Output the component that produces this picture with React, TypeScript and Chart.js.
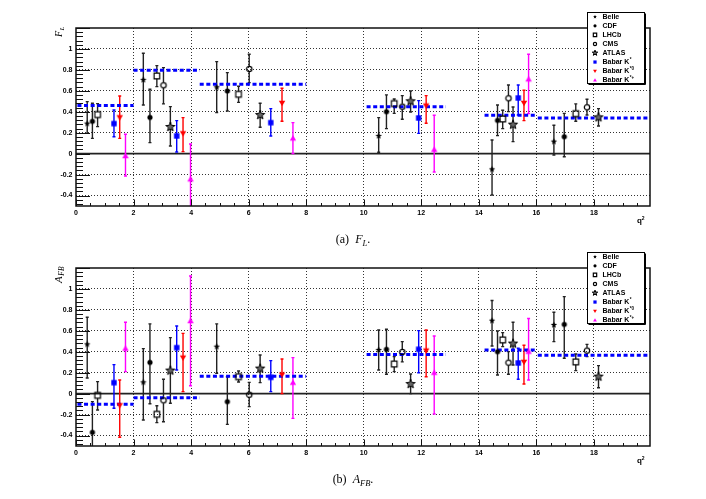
import React, { useEffect, useRef } from 'react';
import { Chart, registerables } from 'chart.js';

Chart.register(...registerables);

// ---------------- axis / tick data ----------------
const xTickValues = [0, 2, 4, 6, 8, 10, 12, 14, 16, 18];
const xTickLabels = ['0', '2', '4', '6', '8', '10', '12', '14', '16', '18'];
const yTickValues = [-0.4, -0.2, 0, 0.2, 0.4, 0.6, 0.8, 1];
const yTickLabels = ['-0.4', '-0.2', '0', '0.2', '0.4', '0.6', '0.8', '1'];
const xMin = 0;
const xMax = 19.95;
const yMin = -0.5;
const yMax = 1.2;

// ---------------- Standard Model bins (dashed blue) ----------------
const smBinLow = [0.05, 2, 4.3, 10.1, 14.2, 16.05];
const smBinHigh = [2, 4.3, 8, 12.86, 16, 19.95];
const smFL = [0.459, 0.796, 0.662, 0.449, 0.366, 0.341];
const smAFB = [-0.102, -0.038, 0.166, 0.373, 0.417, 0.366];

// ---------------- measurements: [value, low, high] ----------------
const belleX = [0.39, 2.34, 4.89, 10.52, 14.46, 16.61];
const belleFL = [[0.287, 0.194, 0.497], [0.704, 0.465, 0.959], [0.634, 0.392, 0.879], [0.169, 0.013, 0.344], [-0.15, -0.395, 0.131], [0.115, -0.013, 0.271]];
const belleAFB = [[0.471, 0.15, 0.729], [0.108, -0.252, 0.43], [0.449, 0.194, 0.666], [0.417, 0.226, 0.608], [0.697, 0.455, 0.889], [0.656, 0.497, 0.777]];

const cdfX = [0.57, 2.57, 5.26, 10.79, 14.65, 16.97];
const cdfFL = [[0.309, 0.146, 0.481], [0.347, 0.105, 0.615], [0.599, 0.408, 0.774], [0.401, 0.239, 0.561], [0.318, 0.172, 0.465], [0.162, -0.029, 0.385]];
const cdfAFB = [[-0.369, -0.6, -0.076], [0.299, -0.096, 0.666], [-0.076, -0.293, 0.162], [0.424, 0.185, 0.615], [0.401, 0.178, 0.599], [0.662, 0.338, 0.927]];

const lhcbX = [0.75, 2.81, 5.65, 11.06, 14.83, 17.37];
const lhcbFL = [[0.373, 0.258, 0.478], [0.742, 0.64, 0.841], [0.567, 0.49, 0.643], [0.478, 0.385, 0.522], [0.331, 0.239, 0.414], [0.382, 0.309, 0.475]];
const lhcbAFB = [[-0.016, -0.156, 0.115], [-0.197, -0.277, -0.115], [0.162, 0.111, 0.217], [0.283, 0.21, 0.354], [0.513, 0.449, 0.583], [0.303, 0.22, 0.379]];

const cmsX = [3.04, 6.02, 11.34, 15.03, 17.76];
const cmsFL = [[0.653, 0.475, 0.822], [0.809, 0.678, 0.949], [0.449, 0.328, 0.554], [0.529, 0.401, 0.656], [0.443, 0.369, 0.519]];
const cmsAFB = [[-0.064, -0.268, 0.137], [-0.01, -0.124, 0.108], [0.398, 0.303, 0.497], [0.296, 0.185, 0.401], [0.411, 0.354, 0.471]];

const atlasX = [3.28, 6.4, 11.63, 15.19, 18.16];
const atlasFL = [[0.255, 0.073, 0.449], [0.369, 0.252, 0.481], [0.5, 0.398, 0.599], [0.277, 0.115, 0.446], [0.347, 0.264, 0.43]];
const atlasAFB = [[0.22, -0.092, 0.535], [0.239, 0.105, 0.369], [0.092, 0.0, 0.188], [0.478, 0.274, 0.682], [0.162, 0.057, 0.268]];

const kstX = [1.32, 3.5, 6.77, 11.91, 15.37];
const kstFL = [[0.287, 0.162, 0.417], [0.169, 0.016, 0.315], [0.296, 0.169, 0.43], [0.341, 0.194, 0.506], [0.532, 0.369, 0.656]];
const kstAFB = [[0.105, -0.14, 0.277], [0.439, 0.226, 0.646], [0.156, 0.019, 0.315], [0.424, 0.2, 0.602], [0.293, 0.137, 0.433]];

const kst0X = [1.52, 3.72, 7.16, 12.17, 15.57];
const kst0FL = [[0.347, 0.146, 0.551], [0.194, 0.019, 0.344], [0.484, 0.309, 0.624], [0.459, 0.29, 0.554], [0.484, 0.315, 0.605]];
const kst0AFB = [[-0.111, -0.417, 0.131], [0.344, 0.019, 0.576], [0.182, 0.0, 0.331], [0.411, 0.162, 0.608], [0.303, 0.092, 0.462]];

const kstpX = [1.72, 3.98, 7.54, 12.45, 15.73];
const kstpFL = [[-0.022, -0.213, 0.185], [-0.245, -0.6, 0.092], [0.146, 0.0, 0.296], [0.038, -0.175, 0.366], [0.71, 0.382, 0.949]];
const kstpAFB = [[0.43, 0.21, 0.682], [0.694, 0.076, 1.124], [0.105, -0.236, 0.344], [0.2, -0.194, 0.551], [0.401, 0.131, 0.717]];

const legendMain = ['Belle', 'CDF', 'LHCb', 'CMS', 'ATLAS', 'Babar K', 'Babar K', 'Babar K'];
const legendSup = ['', '', '', '', '', '*', '*0', '*+'];

const series = [
  { kind: 'belle', x: belleX, FL: belleFL, AFB: belleAFB, err: '#222', gap: 0 },
  { kind: 'cdf', x: cdfX, FL: cdfFL, AFB: cdfAFB, err: '#222', gap: 0 },
  { kind: 'lhcb', x: lhcbX, FL: lhcbFL, AFB: lhcbAFB, err: '#222', gap: 2.9 },
  { kind: 'cms', x: cmsX, FL: cmsFL, AFB: cmsAFB, err: '#222', gap: 2.8 },
  { kind: 'atlas', x: atlasX, FL: atlasFL, AFB: atlasAFB, err: '#222', gap: 0 },
  { kind: 'kst', x: kstX, FL: kstFL, AFB: kstAFB, err: '#0000ff', gap: 0 },
  { kind: 'kst0', x: kst0X, FL: kst0FL, AFB: kst0AFB, err: '#ff0000', gap: 0 },
  { kind: 'kstp', x: kstpX, FL: kstpFL, AFB: kstpAFB, err: '#ff00ff', gap: 0 },
];

const TICK_FONT = "'Liberation Sans', Arial, sans-serif";
const SERIF = "'Liberation Serif', 'Times New Roman', serif";

function starPath(ctx: CanvasRenderingContext2D, x: number, y: number, ro: number, ri: number) {
  for (let k = 0; k < 10; k++) {
    const r = k % 2 === 0 ? ro : ri;
    const a = -Math.PI / 2 + (k * Math.PI) / 5;
    const px = x + r * Math.cos(a);
    const py = y + r * Math.sin(a);
    if (k === 0) ctx.moveTo(px, py);
    else ctx.lineTo(px, py);
  }
  ctx.closePath();
}

function drawMarker(ctx: CanvasRenderingContext2D, kind: string, x: number, y: number, s: number) {
  ctx.save();
  ctx.setLineDash([]);
  ctx.beginPath();
  switch (kind) {
    case 'belle':
      starPath(ctx, x, y, 3.4 * s, 1.4 * s);
      ctx.fillStyle = '#000';
      ctx.fill();
      break;
    case 'cdf':
      ctx.arc(x, y, 2.6 * s, 0, Math.PI * 2);
      ctx.fillStyle = '#000';
      ctx.fill();
      break;
    case 'lhcb':
      ctx.rect(x - 2.8 * s, y - 2.8 * s, 5.6 * s, 5.6 * s);
      ctx.strokeStyle = '#000';
      ctx.lineWidth = 1.2;
      ctx.stroke();
      break;
    case 'cms':
      ctx.arc(x, y, 2.7 * s, 0, Math.PI * 2);
      ctx.strokeStyle = '#000';
      ctx.lineWidth = 1.2;
      ctx.stroke();
      break;
    case 'atlas':
      starPath(ctx, x, y, 4.8 * s, 2.0 * s);
      ctx.fillStyle = '#666';
      ctx.fill();
      ctx.strokeStyle = '#000';
      ctx.lineWidth = 1;
      ctx.stroke();
      break;
    case 'kst':
      ctx.rect(x - 2.7 * s, y - 2.7 * s, 5.4 * s, 5.4 * s);
      ctx.fillStyle = '#0000ff';
      ctx.fill();
      break;
    case 'kst0':
      ctx.moveTo(x - 3.2 * s, y - 2.3 * s);
      ctx.lineTo(x + 3.2 * s, y - 2.3 * s);
      ctx.lineTo(x, y + 3.3 * s);
      ctx.closePath();
      ctx.fillStyle = '#ff0000';
      ctx.fill();
      break;
    case 'kstp':
      ctx.moveTo(x - 3.2 * s, y + 2.3 * s);
      ctx.lineTo(x + 3.2 * s, y + 2.3 * s);
      ctx.lineTo(x, y - 3.3 * s);
      ctx.closePath();
      ctx.fillStyle = '#ff00ff';
      ctx.fill();
      break;
  }
  ctx.restore();
}

function makeMarkerImages() {
  const out: Record<string, HTMLCanvasElement> = {};
  series.forEach((s) => {
    const c = document.createElement('canvas');
    c.width = 14;
    c.height = 14;
    const cx = c.getContext('2d')!;
    drawMarker(cx, s.kind, 7, 7, 1);
    out[s.kind] = c;
  });
  return out;
}

function overlayPlugin(titleMain: string, titleSub: string, titleMainSize: number, titleSubSize: number) {
  return {
    id: 'overlay',
    beforeDatasetsDraw(chart: any) {
      const { ctx, chartArea: a } = chart;
      const xs = chart.scales.x;
      const ys = chart.scales.y;
      ctx.save();
      ctx.beginPath();
      ctx.rect(a.left, a.top, a.right - a.left, a.bottom - a.top);
      ctx.clip();
      ctx.setLineDash([]);
      const y0 = ys.getPixelForValue(0);
      ctx.strokeStyle = '#222';
      ctx.lineWidth = 1.6;
      ctx.beginPath();
      ctx.moveTo(a.left, y0);
      ctx.lineTo(a.right, y0);
      ctx.stroke();
      chart.data.datasets.forEach((ds: any) => {
        if (!ds.errColor) return;
        ctx.strokeStyle = ds.errColor;
        ctx.lineWidth = 1.4;
        ds.data.forEach((p: any) => {
          const px = xs.getPixelForValue(p.x);
          const py = ys.getPixelForValue(p.y);
          const pl = ys.getPixelForValue(p.lo);
          const ph = ys.getPixelForValue(p.hi);
          ctx.beginPath();
          ctx.moveTo(px, pl);
          ctx.lineTo(px, py + ds.gap);
          ctx.moveTo(px, py - ds.gap);
          ctx.lineTo(px, ph);
          ctx.moveTo(px - 1.5, pl);
          ctx.lineTo(px + 1.5, pl);
          ctx.moveTo(px - 1.5, ph);
          ctx.lineTo(px + 1.5, ph);
          ctx.stroke();
        });
      });
      ctx.restore();
    },
    afterDraw(chart: any) {
      const { ctx, chartArea: a } = chart;
      const xs = chart.scales.x;
      const ys = chart.scales.y;
      ctx.save();
      ctx.setLineDash([]);
      // frame
      ctx.strokeStyle = '#111';
      ctx.lineWidth = 1.5;
      ctx.strokeRect(a.left, a.top, a.right - a.left, a.bottom - a.top);
      // tick marks (inside)
      ctx.lineWidth = 1;
      ctx.beginPath();
      for (let k = 0; k * 0.5 <= xMax; k++) {
        const px = Math.round(xs.getPixelForValue(k * 0.5)) + 0.5;
        const len = k % 4 === 0 ? 6.5 : 3;
        ctx.moveTo(px, a.bottom);
        ctx.lineTo(px, a.bottom - len);
      }
      for (let k = -12; k <= 30; k++) {
        const v = k * 0.04;
        if (v < yMin || v > yMax) continue;
        const py = Math.round(ys.getPixelForValue(v)) + 0.5;
        const len = k % 5 === 0 ? 14 : 7;
        ctx.moveTo(a.left, py);
        ctx.lineTo(a.left + len, py);
      }
      ctx.stroke();

      // y-axis title (rotated, ending near the top of the axis)
      ctx.save();
      ctx.translate(61.5, 26.5);
      ctx.rotate(-Math.PI / 2);
      ctx.fillStyle = '#000';
      ctx.textAlign = 'left';
      ctx.textBaseline = 'alphabetic';
      const fMain = `italic ${titleMainSize}px ${SERIF}`;
      const fSub = `italic ${titleSubSize}px ${SERIF}`;
      ctx.font = fMain;
      const w1 = ctx.measureText(titleMain).width;
      ctx.font = fSub;
      const w2 = ctx.measureText(titleSub).width;
      const start = -(w1 + w2 + 0.5);
      ctx.font = fMain;
      ctx.fillText(titleMain, start, 0);
      ctx.font = fSub;
      ctx.fillText(titleSub, start + w1 + 0.5, 2.5);
      ctx.restore();

      // x-axis title q^2
      ctx.fillStyle = '#000';
      ctx.textAlign = 'left';
      ctx.textBaseline = 'alphabetic';
      ctx.font = `bold 8px ${TICK_FONT}`;
      ctx.fillText('q', 637, 223);
      ctx.font = `bold 5px ${TICK_FONT}`;
      ctx.fillText('2', 641.8, 219.5);

      // legend
      const lx = 587.5, ly = 12.5, lw = 57, lh = 71;
      ctx.fillStyle = '#fff';
      ctx.fillRect(lx, ly, lw, lh);
      ctx.strokeStyle = '#000';
      ctx.lineWidth = 1;
      ctx.strokeRect(lx, ly, lw, lh);
      ctx.beginPath();
      ctx.moveTo(lx + lw + 1, ly + 1);
      ctx.lineTo(lx + lw + 1, ly + lh + 1);
      ctx.lineTo(lx + 1, ly + lh + 1);
      ctx.stroke();
      series.forEach((s, i) => {
        const ry = 16.8 + i * 9.05;
        drawMarker(ctx, s.kind, 595, ry, 0.6);
        ctx.fillStyle = '#000';
        ctx.textBaseline = 'middle';
        ctx.font = `bold 7px ${TICK_FONT}`;
        ctx.fillText(legendMain[i], 602.5, ry + 0.3);
        if (legendSup[i]) {
          const mw = ctx.measureText(legendMain[i]).width;
          ctx.font = `bold 4.5px ${TICK_FONT}`;
          ctx.fillText(legendSup[i], 602.5 + mw + 0.4, ry - 2.2);
        }
      });
      ctx.restore();
    },
  };
}

function buildChart(canvas: HTMLCanvasElement, obs: 'FL' | 'AFB', images: Record<string, HTMLCanvasElement>) {
  const smVals = obs === 'FL' ? smFL : smAFB;
  const smData: any[] = [];
  smBinLow.forEach((lo, i) => {
    smData.push({ x: lo, y: smVals[i] }, { x: smBinHigh[i], y: smVals[i] });
    if (i < smBinLow.length - 1) smData.push({ x: smBinHigh[i], y: null });
  });

  const pointSets = series.map((s) => ({
    type: 'scatter',
    data: s.x.map((xv, i) => ({ x: xv, y: s[obs][i][0], lo: s[obs][i][1], hi: s[obs][i][2] })),
    pointStyle: images[s.kind],
    pointRadius: 4,
    pointHoverRadius: 4,
    errColor: s.err,
    gap: s.gap,
    order: 0,
  }));

  const smSet = {
    type: 'line',
    data: smData,
    borderColor: '#0000ff',
    borderWidth: 3,
    borderDash: [4, 2.6],
    pointRadius: 0,
    showLine: true,
    spanGaps: false,
    fill: false,
    tension: 0,
    order: 10,
  };

  const tickFont = { family: TICK_FONT, weight: 'bold', size: 7 };
  const plugin = obs === 'FL' ? overlayPlugin('F', 'L', 10, 7) : overlayPlugin('A', 'FB', 11, 7.5);

  return new Chart(canvas, {
    type: 'scatter',
    data: { datasets: [...pointSets, smSet] as any },
    options: {
      animation: false,
      responsive: false,
      devicePixelRatio: 1,
      events: [],
      layout: { padding: { left: 0, right: 56, top: 28, bottom: 0 } },
      plugins: { legend: { display: false }, tooltip: { enabled: false }, title: { display: false } },
      scales: {
        x: {
          type: 'linear',
          min: xMin,
          max: xMax,
          bounds: 'data',
          afterBuildTicks: (axis: any) => {
            axis.ticks = xTickValues.map((v) => ({ value: v }));
          },
          afterFit: (axis: any) => {
            axis.height = 34;
          },
          grid: {
            drawTicks: false,
            lineWidth: 1,
            color: (c: any) => (c.tick && c.tick.value === 0 ? 'rgba(0,0,0,0)' : '#333'),
          },
          border: { display: false, dash: [1, 2] },
          ticks: {
            color: '#000',
            font: tickFont,
            padding: 2.5,
            maxRotation: 0,
            autoSkip: false,
            callback: (_v: any, i: number) => xTickLabels[i],
          },
        },
        y: {
          type: 'linear',
          min: yMin,
          max: yMax,
          bounds: 'data',
          afterBuildTicks: (axis: any) => {
            axis.ticks = yTickValues.map((v) => ({ value: v }));
          },
          afterFit: (axis: any) => {
            axis.width = 76;
          },
          grid: { drawTicks: false, lineWidth: 1, color: '#333' },
          border: { display: false, dash: [1, 2] },
          ticks: {
            color: '#000',
            font: tickFont,
            padding: 3.5,
            autoSkip: false,
            callback: (_v: any, i: number) => yTickLabels[i],
          },
        },
      },
    } as any,
    plugins: [plugin as any],
  });
}

const captionStyle = (top: number): React.CSSProperties => ({
  position: 'absolute',
  left: 0,
  top,
  width: 706,
  textAlign: 'center',
  fontFamily: SERIF,
  fontSize: 12,
  lineHeight: '12px',
  color: '#000',
  whiteSpace: 'nowrap',
});

const subStyle: React.CSSProperties = { fontSize: 8.5, position: 'relative', top: 2.5, fontStyle: 'italic' };

export default function App() {
  const topRef = useRef<HTMLCanvasElement>(null);
  const botRef = useRef<HTMLCanvasElement>(null);

  useEffect(() => {
    const images = makeMarkerImages();
    const c1 = buildChart(topRef.current!, 'FL', images);
    const c2 = buildChart(botRef.current!, 'AFB', images);
    return () => {
      c1.destroy();
      c2.destroy();
    };
  }, []);

  return (
    <div style={{ position: 'absolute', left: 0, top: 0, width: 706, height: 499, background: '#fff', overflow: 'hidden' }}>
      <canvas ref={topRef} width={706} height={240} style={{ position: 'absolute', left: 0, top: 0, width: 706, height: 240 }} />
      <canvas ref={botRef} width={706} height={240} style={{ position: 'absolute', left: 0, top: 240, width: 706, height: 240 }} />
      <div style={captionStyle(233)}>
        (a)&nbsp; <i>F</i>
        <span style={subStyle}>L</span>.
      </div>
      <div style={captionStyle(473)}>
        (b)&nbsp; <i>A</i>
        <span style={subStyle}>FB</span>.
      </div>
    </div>
  );
}
